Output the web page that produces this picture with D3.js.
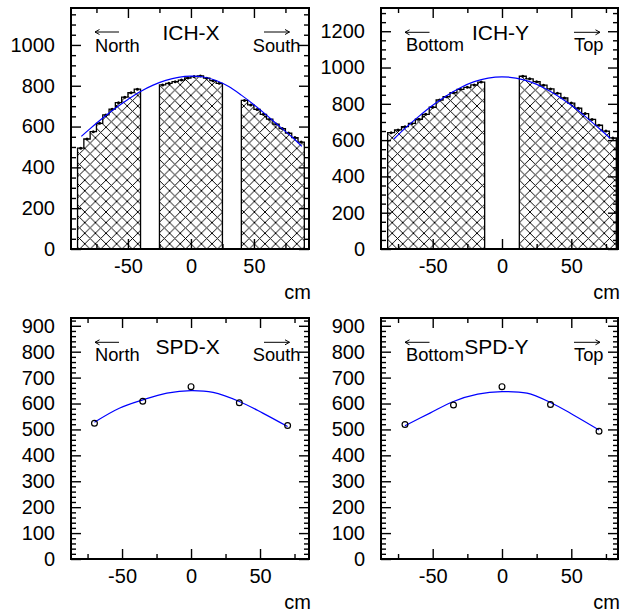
<!DOCTYPE html>
<html><head><meta charset="utf-8">
<script src="https://cdn.jsdelivr.net/npm/d3@7"></script>
<style>body{margin:0;background:#fff} svg{display:block}</style>
</head><body>
<svg id="c" width="622" height="616"></svg>
<script>
// ---------------- data ----------------
const ichxBinLow = [-90,-85,-80,-75,-70,-65,-60,-55,-50,-45,-40,-35,-30,-25,-20,-15,-10,-5,0,5,10,15,20,25,30,35,40,45,50,55,60,65,70,75,80,85];
const ichxCounts = [494,539,575,616,657,685,717,744,766,783,0,0,0,804,812,820,828,838,845,848,837,825,812,0,0,0,728,706,684,660,636,612,590,568,546,524];
const ichyBinLow = [-82.5,-77.5,-72.5,-67.5,-62.5,-57.5,-52.5,-47.5,-42.5,-37.5,-32.5,-27.5,-22.5,-17.5,-12.5,-7.5,-2.5,2.5,7.5,12.5,17.5,22.5,27.5,32.5,37.5,42.5,47.5,52.5,57.5,62.5,67.5,72.5,77.5];
const ichyCounts = [641,656,674,692,715,742,781,821,839,861,880,891,904,920,0,0,0,0,0,952,938,922,903,882,858,832,804,776,746,714,682,650,612];
const binWidth = 5;

const ichxFitX = [-87,-80,-70,-60,-50,-40,-30,-20,-10,0,10,20,30,40,50,60,70,80,88];
const ichxFitY = [552,590,642,690,733,772,803,826,841,847,843,826,796,754,707,656,602,550,503];
const ichyFitX = [-78,-70,-60,-50,-40,-30,-20,-10,0,10,20,30,40,50,60,70,78];
const ichyFitY = [606,665,731,792,845,889,922,942,949,942,922,889,845,792,731,665,610];

const spdxPos = [-70,-35,0,35,70];
const spdxVals = [524,609,665,603,515];
const spdyPos = [-70,-35,0,35,70];
const spdyVals = [519,594,665,596,493];
const spdxFitX = [-70,-52,-35,-17.5,0,16,35,52,70];
const spdxFitY = [528,582,614,640,650,643,608,563,511];
const spdyFitX = [-70,-52,-35,-17.5,0,18,35,51.5,70];
const spdyFitY = [514,563,608,636,646,640,604,556,498];

const xTickLabels = [-50,0,50];
const xMinorTicks = [-75,-25,25,75];
const ichxYTicks = [0,200,400,600,800,1000];
const ichyYTicks = [0,200,400,600,800,1000,1200];
const spdYTicks = [0,100,200,300,400,500,600,700,800,900];
const titles = ["ICH-X","ICH-Y","SPD-X","SPD-Y"];
const leftLabels = ["North","Bottom","North","Bottom"];
const rightLabels = ["South","Top","South","Top"];
const axisTitle = "cm";

// ---------------- drawing ----------------
const FONT = "'Liberation Sans', Arial, Helvetica, sans-serif";
const svg = d3.select("#c");
const defs = svg.append("defs");
const W = 10.6;
const pat = defs.append("pattern").attr("id","hatch").attr("patternUnits","userSpaceOnUse")
  .attr("width",W).attr("height",W);
pat.append("path").attr("d",`M${-W/2},${-W/2}L${W*1.5},${W*1.5}M${-W/2},${W*1.5}L${W*1.5},${-W/2}`)
  .attr("stroke","#000").attr("stroke-width",1).attr("fill","none").attr("shape-rendering","crispEdges");

const panels = [
  {left:71,right:309,top:8,bottom:249,xdom:[-95.2,93.7],ydom:[0,1181],yTicks:ichxYTicks,yMinorStep:50,
   bins:ichxBinLow,counts:ichxCounts,fitX:ichxFitX,fitY:ichxFitY,
   title:titles[0],tx:191,ty:40,ll:leftLabels[0],llx:95,rl:rightLabels[0],rlx:252.7,ly:51.7,ay:32,larr:[95,119],rarr:[264,289.5]},
  {left:381,right:618,top:8,bottom:249,xdom:[-87.3,83.7],ydom:[0,1328],yTicks:ichyYTicks,yMinorStep:50,
   bins:ichyBinLow,counts:ichyCounts,fitX:ichyFitX,fitY:ichyFitY,
   title:titles[1],tx:500.5,ty:40,ll:leftLabels[1],llx:406,rl:rightLabels[1],rlx:574,ly:51.2,ay:32.3,larr:[405,429.5],rarr:[574,600]},
  {left:71,right:309,top:318,bottom:559,xdom:[-87,85.5],ydom:[0,930],yTicks:spdYTicks,yMinorStep:20,
   px:spdxPos,py:spdxVals,fitX:spdxFitX,fitY:spdxFitY,
   title:titles[2],tx:187.7,ty:354,ll:leftLabels[2],llx:95,rl:rightLabels[2],rlx:252.7,ly:361,ay:342.3,larr:[95,119],rarr:[264,289.5]},
  {left:381,right:618,top:318,bottom:559,xdom:[-87.3,83.7],ydom:[0,930],yTicks:spdYTicks,yMinorStep:20,
   px:spdyPos,py:spdyVals,fitX:spdyFitX,fitY:spdyFitY,
   title:titles[3],tx:496.3,ty:354,ll:leftLabels[3],llx:406,rl:rightLabels[3],rlx:574,ly:361,ay:342.3,larr:[405,429.5],rarr:[574,600]}
];

function arrow(g, x1, x2, y, dir){
  g.append("line").attr("x1",x1).attr("x2",x2).attr("y1",y).attr("y2",y)
    .attr("stroke","#000").attr("stroke-width",1);
  const hx = dir < 0 ? x1 : x2, s = dir < 0 ? 1 : -1;
  g.append("path").attr("d",`M${hx+s*4.5},${y-2.5}L${hx},${y}L${hx+s*4.5},${y+2.5}`)
    .attr("fill","none").attr("stroke","#000").attr("stroke-width",1);
}

panels.forEach(p => {
  const x = d3.scaleLinear().domain(p.xdom).range([p.left,p.right]);
  const y = d3.scaleLinear().domain(p.ydom).range([p.bottom,p.top]);
  const g = svg.append("g");

  // histogram (hatched, contiguous runs of filled bins)
  if (p.bins){
    const runs = []; let cur = null;
    p.bins.forEach((lo,i) => {
      const v = p.counts[i];
      if (v > 0){ if(!cur){cur=[];runs.push(cur);} cur.push([lo,v]); }
      else cur = null;
    });
    runs.forEach(run => {
      const pts = [[run[0][0],0]];
      run.forEach(([lo,v]) => { pts.push([lo,v]); pts.push([lo+binWidth,v]); });
      pts.push([run[run.length-1][0]+binWidth,0]);
      g.append("path").datum(pts)
        .attr("d", d3.line().x(d=>x(d[0])).y(d=>y(d[1])))
        .attr("fill","url(#hatch)").attr("stroke","#000").attr("stroke-width",1.3);
    });
    g.selectAll(".mk").data(p.bins.map((lo,i)=>[lo+binWidth/2,p.counts[i]]).filter(d=>d[1]>0))
      .enter().append("circle").attr("cx",d=>x(d[0])).attr("cy",d=>y(d[1])).attr("r",1.5).attr("fill","#000");
  }

  // fit curve
  g.append("path").datum(d3.zip(p.fitX,p.fitY))
    .attr("d", d3.line().x(d=>x(d[0])).y(d=>y(d[1])).curve(d3.curveCatmullRom))
    .attr("fill","none").attr("stroke","#0000ff").attr("stroke-width",1.2);

  // points
  if (p.px){
    g.selectAll(".pt").data(d3.zip(p.px,p.py)).enter().append("circle")
      .attr("cx",d=>x(d[0])).attr("cy",d=>y(d[1])).attr("r",2.9)
      .attr("fill","none").attr("stroke","#000").attr("stroke-width",1.2);
  }

  // axes
  const yMinor = d3.range(p.yMinorStep, p.ydom[1], p.yMinorStep).filter(v => !p.yTicks.includes(v));
  const style = a => { a.select(".domain").remove(); a.selectAll("line").attr("stroke","#000").attr("stroke-width",1.4);
    a.attr("font-family",FONT).attr("font-size",20); a.selectAll("text").attr("fill","#000"); };
  g.append("g").attr("transform",`translate(0,${p.bottom})`)
    .call(d3.axisBottom(x).tickValues(xTickLabels).tickSize(-10).tickPadding(9.3).tickFormat(d=>String(d))).call(style);
  g.append("g").attr("transform",`translate(0,${p.bottom})`)
    .call(d3.axisBottom(x).tickValues(xMinorTicks).tickSize(-5).tickFormat("")).call(style);
  g.append("g").attr("transform",`translate(0,${p.top})`)
    .call(d3.axisTop(x).tickValues(xTickLabels).tickSize(-10).tickFormat("")).call(style);
  g.append("g").attr("transform",`translate(0,${p.top})`)
    .call(d3.axisTop(x).tickValues(xMinorTicks).tickSize(-5).tickFormat("")).call(style);
  g.append("g").attr("transform",`translate(${p.left},0)`)
    .call(d3.axisLeft(y).tickValues(p.yTicks).tickSize(-10).tickPadding(16).tickFormat(d=>String(d))).call(style);
  g.append("g").attr("transform",`translate(${p.left},0)`)
    .call(d3.axisLeft(y).tickValues(yMinor).tickSize(-5).tickFormat("")).call(style);
  g.append("g").attr("transform",`translate(${p.right},0)`)
    .call(d3.axisRight(y).tickValues(p.yTicks).tickSize(-10).tickFormat("")).call(style);
  g.append("g").attr("transform",`translate(${p.right},0)`)
    .call(d3.axisRight(y).tickValues(yMinor).tickSize(-5).tickFormat("")).call(style);

  // frame
  g.append("rect").attr("x",p.left).attr("y",p.top).attr("width",p.right-p.left).attr("height",p.bottom-p.top)
    .attr("fill","none").attr("stroke","#000").attr("stroke-width",2);

  // axis title
  g.append("text").attr("x",p.right+2).attr("y",p.bottom+49.5).attr("text-anchor","end")
    .attr("font-family",FONT).attr("font-size",20).text(axisTitle);

  // title and direction labels
  g.append("text").attr("x",p.tx).attr("y",p.ty).attr("text-anchor","middle")
    .attr("font-family",FONT).attr("font-size",21).text(p.title);
  g.append("text").attr("x",p.llx).attr("y",p.ly).attr("font-family",FONT).attr("font-size",18.3).text(p.ll);
  g.append("text").attr("x",p.rlx).attr("y",p.ly).attr("font-family",FONT).attr("font-size",18.3).text(p.rl);
  arrow(g,p.larr[0],p.larr[1],p.ay,-1);
  arrow(g,p.rarr[0],p.rarr[1],p.ay,1);
});
</script>
</body></html>
